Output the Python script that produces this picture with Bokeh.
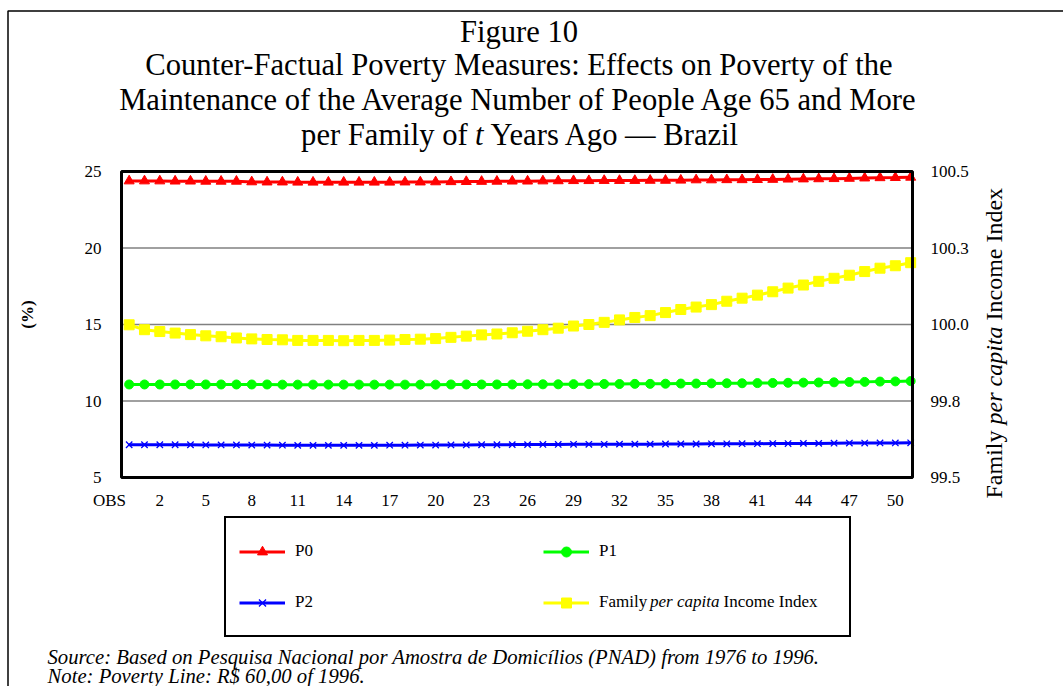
from math import pi
from bokeh.plotting import figure
from bokeh.models import (Range1d, LinearAxis, FixedTicker, NumeralTickFormatter, Label,
                          Legend, LegendItem, PolyAnnotation, BoxAnnotation)
from bokeh.embed import file_html
from bokeh.resources import INLINE

# ---------------- data ----------------
obs = list(range(52))
x_ticks = [2, 5, 8, 11, 14, 17, 20, 23, 26, 29, 32, 35, 38, 41, 44, 47, 50]
left_ticks = [5, 10, 15, 20, 25]
right_ticks = [99.5, 99.75, 100.0, 100.25, 100.5]

p0 = [24.38, 24.38, 24.38, 24.37, 24.37, 24.36, 24.36, 24.36, 24.32, 24.31,
      24.31, 24.30, 24.30, 24.30, 24.30, 24.30, 24.30, 24.30, 24.31, 24.31,
      24.32, 24.33, 24.34, 24.35, 24.36, 24.37, 24.37, 24.38, 24.39, 24.40,
      24.40, 24.41, 24.41, 24.41, 24.42, 24.42, 24.43, 24.45, 24.45, 24.46,
      24.46, 24.47, 24.48, 24.50, 24.51, 24.52, 24.53, 24.55, 24.57, 24.59,
      24.60, 24.62]
p1 = [11.08, 11.08, 11.08, 11.08, 11.08, 11.08, 11.08, 11.08, 11.08, 11.08,
      11.07, 11.07, 11.07, 11.07, 11.07, 11.07, 11.07, 11.07, 11.07, 11.07,
      11.07, 11.08, 11.08, 11.08, 11.08, 11.08, 11.09, 11.09, 11.09, 11.10,
      11.10, 11.11, 11.11, 11.12, 11.12, 11.13, 11.14, 11.14, 11.15, 11.16,
      11.16, 11.17, 11.18, 11.19, 11.20, 11.21, 11.22, 11.24, 11.25, 11.27,
      11.28, 11.30]
p2 = [7.14, 7.14, 7.14, 7.14, 7.14, 7.13, 7.13, 7.13, 7.12, 7.12,
      7.11, 7.10, 7.10, 7.10, 7.10, 7.10, 7.10, 7.11, 7.11, 7.12,
      7.12, 7.13, 7.13, 7.14, 7.14, 7.15, 7.15, 7.16, 7.16, 7.17,
      7.17, 7.17, 7.18, 7.18, 7.18, 7.19, 7.19, 7.19, 7.20, 7.20,
      7.21, 7.21, 7.22, 7.22, 7.23, 7.23, 7.24, 7.25, 7.25, 7.26,
      7.26, 7.27]
income = [99.999, 99.983, 99.977, 99.972, 99.967, 99.963, 99.960, 99.956, 99.953, 99.951,
          99.950, 99.948, 99.948, 99.948, 99.947, 99.948, 99.948, 99.949, 99.951, 99.952,
          99.954, 99.958, 99.962, 99.966, 99.969, 99.973, 99.978, 99.983, 99.988, 99.995,
          100.000, 100.007, 100.015, 100.023, 100.029, 100.039, 100.049, 100.057, 100.065, 100.076,
          100.086, 100.096, 100.107, 100.119, 100.129, 100.141, 100.151, 100.161, 100.173, 100.184,
          100.192, 100.202]

series_colors = ["#FF0000", "#00FF00", "#0000FF", "#FFFF00"]
series_markers = ["triangle", "circle", "x", "square"]

# ---------------- geometry (page pixels) ----------------
W, H = 1063, 686
FL, FR, FT, FB = 121, 912, 171, 477      # plot area
X0, X1 = -0.5, 51.12                     # x extent of plot area
Y0, Y1 = 5, 25                           # left-axis extent
I0, I1 = 99.5, 100.5                     # right-axis extent
FONT = "Liberation Serif"

KX = (X1 - X0) / (FR - FL)
KY = (Y1 - Y0) / (FB - FT)
KI = (I1 - I0) / (FB - FT)
XS, XE = X0 - FL * KX, X1 + (W - FR) * KX
YS, YE = Y0 - (H - FB) * KY, Y1 + FT * KY
IS, IE = I0 - (H - FB) * KI, I1 + FT * KI


def dx(px):
    return XS + px * KX


def dy(py):
    return YE - py * KY


p = figure(width=W, height=H, output_backend="svg", toolbar_location=None,
           x_range=Range1d(XS, XE), y_range=Range1d(YS, YE),
           min_border=0, min_border_left=0, min_border_right=0,
           min_border_top=0, min_border_bottom=0)
p.title.visible = False
p.extra_y_ranges = {"inc": Range1d(IS, IE)}
p.background_fill_color = "white"
p.border_fill_color = "white"
p.outline_line_color = None
p.grid.visible = False


def style_axis(ax, standoff):
    ax.axis_line_color = None
    ax.major_tick_line_color = None
    ax.minor_tick_line_color = None
    ax.major_tick_out = 0
    ax.major_tick_in = 0
    ax.minor_tick_out = 0
    ax.minor_tick_in = 0
    ax.major_label_standoff = standoff
    ax.major_label_text_font = FONT
    ax.major_label_text_font_size = "17px"
    ax.major_label_text_color = "black"


xa = p.xaxis[0]
xa.ticker = FixedTicker(ticks=x_ticks)
xa.fixed_location = Y0
style_axis(xa, 17)

ya = p.yaxis[0]
ya.ticker = FixedTicker(ticks=left_ticks)
ya.fixed_location = X0
style_axis(ya, 20)

ra = LinearAxis(y_range_name="inc", ticker=FixedTicker(ticks=right_ticks),
                formatter=NumeralTickFormatter(format="0.0"), fixed_location=X1)
style_axis(ra, 18)
p.add_layout(ra, "right")

# horizontal grid lines across the plot area
inner = [t for t in left_ticks if Y0 < t < Y1]
p.segment(x0=[X0] * len(inner), x1=[X1] * len(inner), y0=inner, y1=inner,
          line_color="#808080", line_width=1.5)

# ---------------- series ----------------
rend = []
for vals, col, mk, sz in zip([p0, p1, p2, income], series_colors, series_markers, [10, 9, 9, 10]):
    kw = {"y_range_name": "inc"} if vals is income else {}
    ln = p.line(obs, vals, line_color=col, line_width=3, **kw)
    if mk == "x":
        sc = p.scatter(obs, vals, marker=mk, size=sz, line_color=col, line_width=1.3, **kw)
    else:
        sc = p.scatter(obs, vals, marker=mk, size=sz, fill_color=col, line_color=col, **kw)
    rend.append([ln, sc])

# plot-area box
p.add_layout(BoxAnnotation(left=X0, right=X1, bottom=Y0, top=Y1, fill_alpha=0,
                           line_color="black", line_alpha=1, line_width=3))
# outer frame (left and top edges visible)
p.add_layout(PolyAnnotation(xs=[dx(7.5), dx(7.5), dx(3000), dx(3000)],
                            ys=[dy(3000), dy(10.5), dy(10.5), dy(3000)],
                            fill_alpha=0, line_color="black", line_alpha=1, line_width=1.5))

# ---------------- legend ----------------
legend = Legend(items=[
    LegendItem(label="P0", renderers=rend[0]),
    LegendItem(label="P2", renderers=rend[2]),
    LegendItem(label="P1", renderers=rend[1]),
    LegendItem(label="Family", renderers=rend[3]),
], location=(224, H - 637), orientation="vertical", nrows=2)
legend.padding = 13
legend.spacing = 11
legend.margin = 0
legend.glyph_width = 46
legend.glyph_height = 25
legend.label_height = 40
legend.label_width = 237
legend.label_standoff = 10
legend.border_line_color = "black"
legend.border_line_alpha = 1
legend.border_line_width = 2
legend.background_fill_color = "white"
legend.background_fill_alpha = 0
legend.label_text_font = FONT
legend.label_text_font_size = "17px"
legend.label_text_color = "black"
p.add_layout(legend, "center")


def lab(text, px, py, size, align="left", baseline="alphabetic", style="normal", angle=0):
    p.add_layout(Label(x=dx(px), y=dy(py), text=text, text_font=FONT, text_font_size=size,
                       text_font_style=style, text_align=align, text_baseline=baseline,
                       angle=angle, text_color="black"))


lab("per capita", 649.5, 601, "17px", baseline="middle", style="italic")
lab("Income Index", 723, 601, "17px", baseline="middle")

# title
lab("Figure 10", 518.5, 31.5, "30.6px", align="center")
lab("Counter-Factual Poverty Measures: Effects on Poverty of the", 518.5, 64.5, "30.6px", align="center")
lab("Maintenance of the Average Number of People Age 65 and More", 518.5, 99.5, "30.6px", align="center")
lab("per Family of", 300.6, 134.5, "30.6px")
lab("t", 474.5, 134.5, "30.6px", style="italic")
lab("Years Ago \u2014 Brazil", 490.0, 134.5, "30.6px")

# axis titles
lab("(%)", 27, 314, "17px", align="center", baseline="middle", style="bold", angle=pi / 2)
lab("OBS", 109, 500, "17px", align="center")
lab("Family", 993, 498, "24px", baseline="middle", angle=pi / 2)
lab("per capita", 993, 424, "24px", baseline="middle", style="italic", angle=pi / 2)
lab("Income Index", 993, 320, "24px", baseline="middle", angle=pi / 2)

# footer
lab("Source: Based on Pesquisa Nacional por Amostra de Domic\u00edlios (PNAD) from 1976  to 1996.",
    47, 656, "20.7px", style="italic")
lab("Note: Poverty Line: R$ 60,00 of 1996.", 47, 675, "20.7px", style="italic")

open("out.html", "w").write(file_html(p, INLINE))
